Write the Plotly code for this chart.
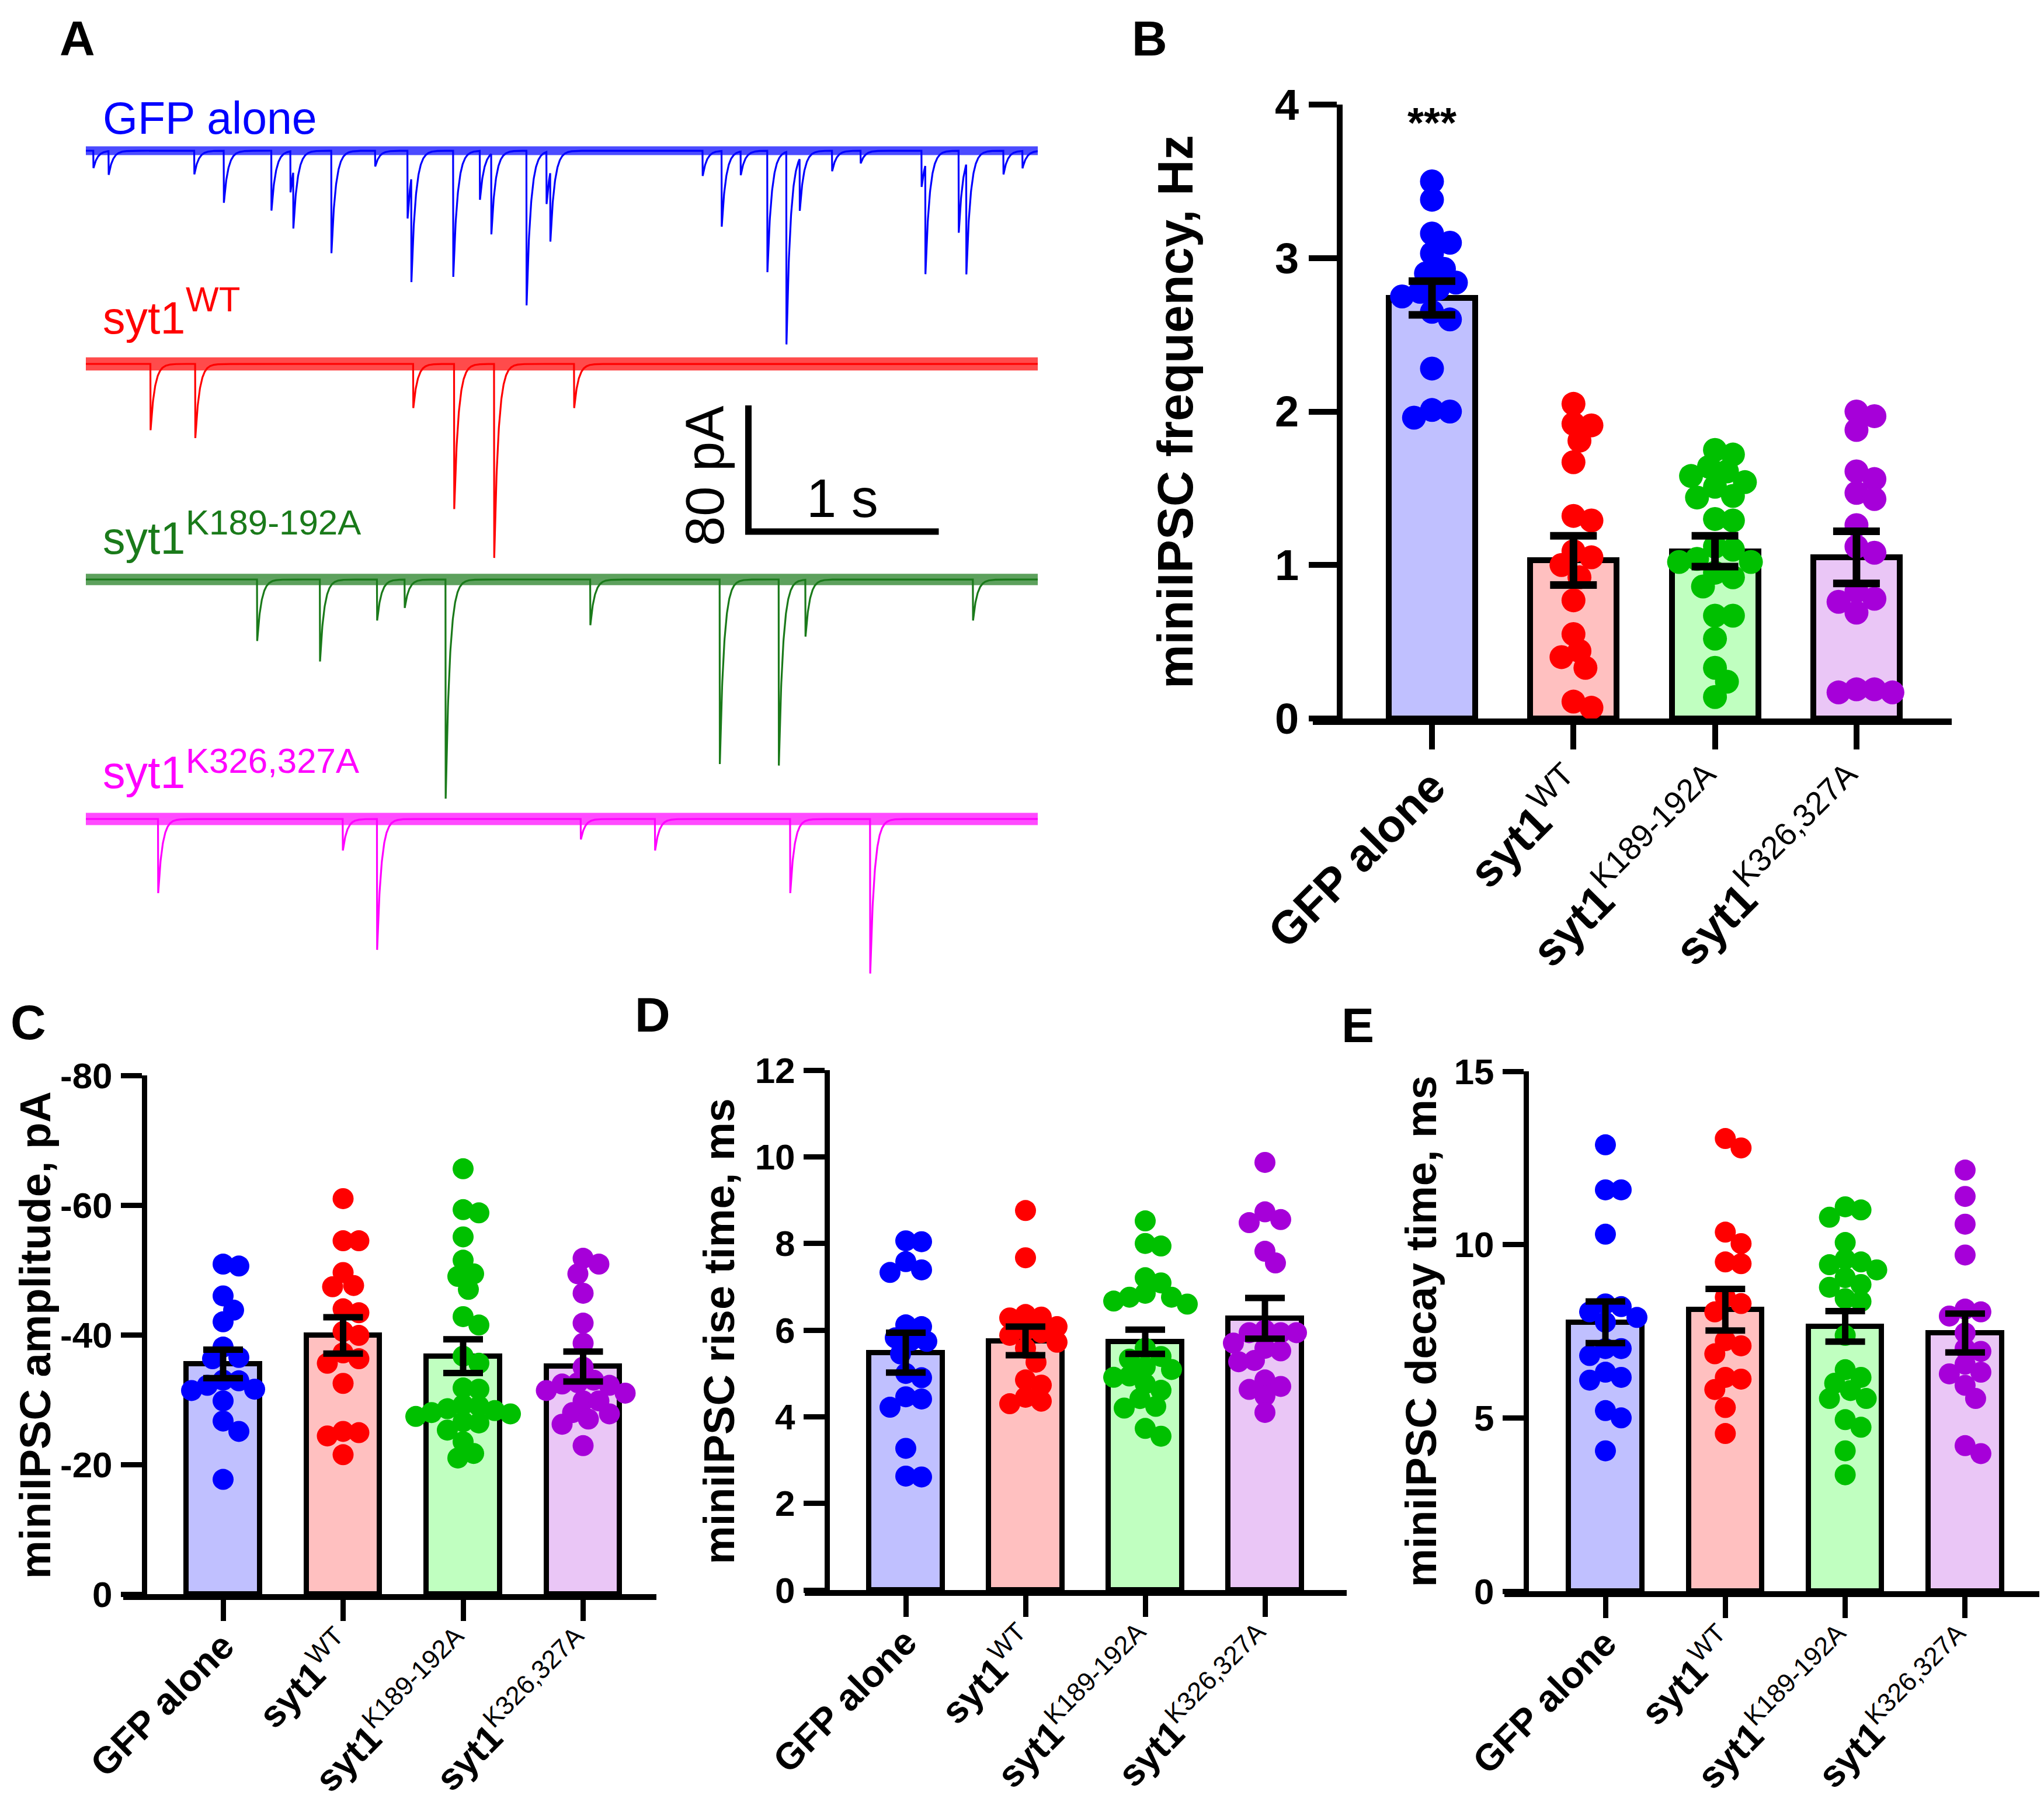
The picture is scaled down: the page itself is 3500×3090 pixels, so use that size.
import numpy as np
import plotly.graph_objects as go

W, H = 3500, 3090
FONT = "Liberation Sans"

# ---------------- DATA ----------------
groups = ["GFP alone", "syt1 WT", "syt1 K189-192A", "syt1 K326,327A"]
tick_labels = ["<b>GFP alone</b>", "<b>syt1</b><sup>WT</sup>",
               "<b>syt1</b><sup>K189-192A</sup>", "<b>syt1</b><sup>K326,327A</sup>"]

# Panel B: miniIPSC frequency (Hz)
gfp_freq = [3.50, 3.38, 3.16, 3.10, 3.03, 2.93, 2.90, 2.84, 2.80, 2.78, 2.75, 2.65, 2.60, 2.28, 2.01, 2.00, 1.96]
wt_freq = [2.05, 1.91, 1.92, 1.81, 1.67, 1.29, 1.32, 1.05, 1.09, 1.00, 0.92, 0.77, 0.55, 0.44, 0.40, 0.33, 0.11, 0.07]
k189_freq = [1.72, 1.75, 1.61, 1.64, 1.54, 1.51, 1.44, 1.45, 1.30, 1.29, 1.12, 1.02, 1.02, 1.04, 0.95, 0.92,
             0.86, 0.67, 0.67, 0.52, 0.33, 0.24, 0.14, 1.58, 1.10]
k326_freq = [2.00, 1.97, 1.88, 1.61, 1.56, 1.47, 1.43, 1.26, 1.12, 1.08, 0.83, 0.76, 0.78, 0.69, 0.17, 0.19, 0.17, 0.19]
freq_mean = [2.74, 1.03, 1.09, 1.05]
freq_sem = [0.11, 0.16, 0.10, 0.17]

# Panel C: amplitude (pA)
gfp_amp = [-50.6, -50.9, -46.0, -43.8, -42.0, -38.1, -36.3, -36.5, -33.0, -32.9, -31.4, -32.2, -31.6, -29.8, -26.7, -25.1, -17.7]
wt_amp = [-61.0, -54.5, -54.5, -49.6, -47.4, -47.6, -44.0, -43.4, -40.5, -39.9, -36.3, -35.6, -37.2, -32.5, -25.1, -24.9, -24.4, -21.5]
k189_amp = [-65.6, -59.3, -58.8, -55.1, -51.5, -49.4, -49.0, -47.0, -42.8, -41.5, -36.7, -35.6, -31.8, -31.6, -29.2,
            -29.0, -28.6, -28.0, -27.8, -27.4, -28.3, -26.6, -26.4, -25.3, -23.5, -21.7, -21.0]
k326_amp = [-51.8, -50.9, -49.4, -46.4, -41.8, -38.7, -35.0, -33.0, -32.6, -32.4, -32.2, -31.4, -31.0, -29.8, -29.8,
            -28.0, -27.0, -27.8, -26.2, -22.9]
amp_mean = [-35.5, -39.9, -36.7, -35.1]
amp_sem = [2.2, 2.8, 2.6, 2.3]

# Panel D: rise time (ms)
gfp_rise = [8.06, 8.04, 7.33, 7.58, 7.39, 6.08, 6.12, 5.82, 5.76, 5.74, 5.45, 4.90, 5.00, 4.46, 4.41, 4.22, 3.27, 2.61, 2.63]
wt_rise = [8.76, 7.67, 6.36, 6.30, 6.28, 5.88, 5.94, 6.00, 6.08, 5.72, 5.58, 5.26, 4.85, 4.73, 4.36, 4.45, 4.30]
k189_rise = [8.52, 8.00, 7.94, 7.21, 7.09, 6.76, 6.85, 6.76, 6.67, 6.60, 5.58, 5.39, 5.33, 5.09, 5.15, 4.94, 4.91,
             4.76, 4.61, 4.42, 4.24, 4.20, 3.73, 3.55]
k326_rise = [9.87, 8.73, 8.55, 8.48, 7.82, 7.55, 5.94, 5.94, 5.94, 6.00, 5.52, 5.58, 5.70, 5.27, 5.30, 4.85, 4.70,
             4.63, 4.48, 4.10]
rise_mean = [5.48, 5.75, 5.73, 6.27]
rise_sem = [0.46, 0.33, 0.28, 0.47]

# Panel E: decay time (ms)
gfp_decay = [12.88, 11.58, 11.58, 10.30, 8.29, 8.21, 8.06, 7.76, 7.90, 7.00, 6.80, 7.00, 6.32, 6.17, 6.09, 5.21, 5.00, 4.05]
wt_decay = [13.06, 12.79, 10.36, 10.03, 9.45, 9.50, 8.48, 8.06, 8.30, 7.23, 7.08, 6.85, 6.12, 6.17, 5.82, 5.30, 4.55]
k189_decay = [11.00, 11.09, 10.79, 10.06, 9.58, 9.42, 9.27, 9.50, 9.05, 8.85, 8.77, 8.44, 8.36, 7.38, 6.39, 6.17,
              5.79, 6.00, 5.56, 5.56, 4.95, 4.73, 4.05, 3.36]
k326_decay = [12.15, 11.39, 10.59, 9.70, 7.94, 8.14, 8.06, 7.00, 7.45, 6.92, 6.55, 5.94, 6.27, 6.32, 5.56, 3.97, 4.20]
decay_mean = [7.76, 8.12, 7.64, 7.45]
decay_sem = [0.60, 0.60, 0.44, 0.56]

# Panel A: example traces -- detected events (time s, amplitude pA)
gfp_event_t = [0.04, 0.12, 0.57, 0.725, 0.975, 1.075, 1.09, 1.29, 1.52, 1.69, 1.71, 1.93, 2.07, 2.13, 2.315, 2.42,
               2.44, 3.24, 3.34, 3.44, 3.58, 3.68, 3.75, 3.92, 4.07, 4.39, 4.41, 4.585, 4.625, 4.82, 4.92]
gfp_event_pA = [11, 15, 15, 33, 38, 26, 36, 65, 10, 43, 66, 80, 31, 51, 98, 33, 44, 16, 48, 15, 77, 122, 33, 13, 8,
                23, 69, 52, 70, 15, 11]
wt_event_t = [0.34, 0.575, 1.72, 1.935, 2.145, 2.565]
wt_event_pA = [42, 47, 28, 92, 123, 28]
k189_event_t = [0.90, 1.23, 1.53, 1.675, 1.89, 2.65, 3.33, 3.64, 3.78, 4.66]
k189_event_pA = [39, 52, 26, 18, 139, 29, 117, 118, 36, 26]
k326_event_t = [0.38, 1.35, 1.53, 2.60, 2.99, 3.70, 4.12]
k326_event_pA = [47, 20, 83, 13, 20, 47, 98]
trace_noise_pA = [10, 15, 13, 14]
trace_duration_s = 5.0
scale_bar_pA = 80
scale_bar_s = 1

# ---------------- STYLE ----------------
dot_colors = ["#0000FF", "#FF0000", "#00C000", "#A600D9"]
bar_colors = ["#C0C0FF", "#FFC0C0", "#C0FFC0", "#EAC6F6"]
trace_colors = ["#0000FF", "#FF0000", "#1A7A1A", "#FF00FF"]


def px2x(px):
    return px / W


def px2y(py):
    return 1 - py / H


fig = go.Figure()

# ---------------- PANEL A ----------------
A_x0, A_x1 = 139, 1769
A_ytop, A_ybot = 100, 1700
px_per_pA = 2.7
base_px = [250, 615, 984, 1394]
offsets = [-(b - base_px[0]) / px_per_pA for b in base_px]
A_yrange = [-(A_ybot - base_px[0]) / px_per_pA, (base_px[0] - A_ytop) / px_per_pA]

t = np.round(np.arange(0, trace_duration_s + 1e-9, 0.001), 3)
tau = 0.022


def waveform(ev_t, ev_a):
    y = np.zeros_like(t)
    for t0, a in zip(ev_t, ev_a):
        m = t >= t0 - 1e-9
        y[m] -= a * np.exp(-(t[m] - t0) / tau)
    return y


events = [(gfp_event_t, gfp_event_pA), (wt_event_t, wt_event_pA),
          (k189_event_t, k189_event_pA), (k326_event_t, k326_event_pA)]
for i, (et, ea) in enumerate(events):
    wf = waveform(et, ea) + offsets[i]
    # baseline noise envelope of the recording
    fig.add_trace(go.Scatter(x=[0, trace_duration_s], y=[offsets[i], offsets[i]], mode="lines",
                             line=dict(color=trace_colors[i], width=trace_noise_pA[i] * px_per_pA * 0.55),
                             opacity=0.7, xaxis="x", yaxis="y", hoverinfo="skip"))
    fig.add_trace(go.Scatter(x=t, y=wf, mode="lines",
                             line=dict(color=trace_colors[i], width=3.2), xaxis="x", yaxis="y",
                             hoverinfo="skip"))

# scale bar
sb_t0 = 3.48
sb_y0 = -(902 - base_px[0]) / px_per_pA
fig.add_trace(go.Scatter(x=[sb_t0, sb_t0, sb_t0 + scale_bar_s], y=[sb_y0 + scale_bar_pA, sb_y0, sb_y0],
                         mode="lines", line=dict(color="black", width=11), xaxis="x", yaxis="y",
                         hoverinfo="skip"))

layout_axes = dict(
    xaxis=dict(domain=[px2x(A_x0), px2x(A_x1)], range=[0, trace_duration_s], visible=False, anchor="y",
               automargin=False),
    yaxis=dict(domain=[px2y(A_ybot), px2y(A_ytop)], range=A_yrange, visible=False, anchor="x",
               automargin=False),
)

annotations = []


def ann(text, x, y, size, color="black", bold=False, angle=0, xanchor="center", yanchor="middle"):
    annotations.append(dict(text=text, x=px2x(x), y=px2y(y), xref="paper", yref="paper",
                            showarrow=False, textangle=angle, xanchor=xanchor, yanchor=yanchor,
                            font=dict(family=FONT, size=size, color=color,
                                      weight="bold" if bold else "normal")))


# trace labels
ann("GFP alone", 166, 194, 77, trace_colors[0], xanchor="left")
ann("syt1", 166, 536, 77, trace_colors[1], xanchor="left")
ann("WT", 308, 504, 60, trace_colors[1], xanchor="left")
ann("syt1", 166, 913, 77, trace_colors[2], xanchor="left")
ann("K189-192A", 308, 886, 60, trace_colors[2], xanchor="left")
ann("syt1", 166, 1314, 77, trace_colors[3], xanchor="left")
ann("K326,327A", 308, 1294, 60, trace_colors[3], xanchor="left")
ann(f"{scale_bar_pA} pA", 1199, 807, 92, angle=-90)
ann(f"{scale_bar_s} s", 1434, 845, 92)

# panel letters
for letter, (lx, ly) in {"A": (124, 58), "B": (1960, 58), "C": (40, 1742),
                          "D": (1109, 1729), "E": (2317, 1747)}.items():
    ann(letter, lx, ly, 84, bold=True)


# ---------------- BAR PANELS ----------------
def swarm(vals, d, ppx, ppy):
    order = sorted(range(len(vals)), key=lambda k: -abs(vals[k]))
    placed = []
    offs = [0.0] * len(vals)
    step = d * 0.25
    cands = [0.0]
    for n in range(1, 60):
        cands += [n * step, -n * step]
    for k in order:
        yy = abs(vals[k]) * ppy
        for c in cands:
            if all((c - px) ** 2 + (yy - py) ** 2 >= (0.74 * d) ** 2 for px, py in placed):
                break
        placed.append((c, yy))
        offs[k] = c / ppx
    return offs


panels = [
    dict(ax="2", data=[gfp_freq, wt_freq, k189_freq, k326_freq], mean=freq_mean, sem=freq_sem,
         xl=2240, yax=2286, xr=3334, cat0=2444, sp=242.3, ytop=171, ybot=1222, yr=[0, 4],
         tv=[0, 1, 2, 3, 4], tt=["0", "1", "2", "3", "4"], dot=41, lw=10, elw=13, cap=40,
         tfs=74, xfs=79, ylen=48, xlen=42, stand=-14,
         title="miniIPSC frequency, Hz", tx=2004, ty=697, tsz=85),
    dict(ax="3", data=[gfp_amp, wt_amp, k189_amp, k326_amp], mean=amp_mean, sem=amp_sem,
         xl=203, yax=239, xr=1116, cat0=374, sp=205.5, ytop=1833, ybot=2721, yr=[0, -80],
         tv=[0, -20, -40, -60, -80], tt=["0", "-20", "-40", "-60", "-80"], dot=36, lw=9, elw=11, cap=34,
         tfs=62, xfs=64, ylen=36, xlen=36, stand=-20,
         title="miniIPSC amplitude, pA", tx=52, ty=2278, tsz=74),
    dict(ax="4", data=[gfp_rise, wt_rise, k189_rise, k326_rise], mean=rise_mean, sem=rise_sem,
         xl=1370, yax=1408, xr=2298, cat0=1543, sp=205.0, ytop=1824, ybot=2714, yr=[0, 12],
         tv=[0, 2, 4, 6, 8, 10, 12], tt=["0", "2", "4", "6", "8", "10", "12"], dot=36, lw=9, elw=11,
         cap=34, tfs=62, xfs=64, ylen=36, xlen=36, stand=-20,
         title="miniIPSC rise time, ms", tx=1223, ty=2271, tsz=74),
    dict(ax="5", data=[gfp_decay, wt_decay, k189_decay, k326_decay], mean=decay_mean, sem=decay_sem,
         xl=2568, yax=2605, xr=3500, cat0=2741, sp=205.3, ytop=1826, ybot=2716, yr=[0, 15],
         tv=[0, 5, 10, 15], tt=["0", "5", "10", "15"], dot=36, lw=9, elw=11, cap=34,
         tfs=62, xfs=64, ylen=36, xlen=36, stand=-20,
         title="miniIPSC decay time, ms", tx=2425, ty=2271, tsz=74),
]

for p in panels:
    xa, ya = "x" + p["ax"], "y" + p["ax"]
    cats = list(range(len(groups)))
    fig.add_trace(go.Bar(x=cats, y=p["mean"], width=0.61, xaxis=xa, yaxis=ya,
                         marker=dict(color=bar_colors, line=dict(color="black", width=p["lw"])),
                         hoverinfo="skip"))
    ppy = (p["ybot"] - p["ytop"]) / abs(p["yr"][1] - p["yr"][0])
    for i, vals in enumerate(p["data"]):
        offs = swarm(vals, p["dot"], p["sp"], ppy)
        fig.add_trace(go.Scatter(x=[i + o for o in offs], y=vals, mode="markers", xaxis=xa, yaxis=ya,
                                 marker=dict(size=p["dot"], color=dot_colors[i], line=dict(width=0)),
                                 cliponaxis=False, hoverinfo="skip"))
    fig.add_trace(go.Scatter(x=cats, y=p["mean"], mode="markers", xaxis=xa, yaxis=ya,
                             marker=dict(size=1, color="rgba(0,0,0,0)"), cliponaxis=False,
                             error_y=dict(type="data", array=p["sem"], color="black",
                                          thickness=p["elw"], width=p["cap"]),
                             hoverinfo="skip"))
    layout_axes["xaxis" + p["ax"]] = dict(
        domain=[px2x(p["xl"]), px2x(p["xr"])],
        range=[(p["xl"] - p["cat0"]) / p["sp"], (p["xr"] - p["cat0"]) / p["sp"]],
        tickvals=cats, ticktext=tick_labels, tickangle=-45, ticks="outside", ticklen=p["xlen"],
        tickwidth=p["lw"], tickcolor="black", showline=True, linewidth=p["lw"] + 1, linecolor="black",
        showgrid=False, zeroline=False, anchor=ya, automargin=False, ticklabelstandoff=p["stand"],
        tickfont=dict(family=FONT, size=p["xfs"], color="black"))
    layout_axes["yaxis" + p["ax"]] = dict(
        domain=[px2y(p["ybot"]), px2y(p["ytop"])], range=p["yr"], tickvals=p["tv"], ticktext=p["tt"],
        ticks="outside", ticklen=p["ylen"], tickwidth=p["lw"], tickcolor="black", showline=True,
        linewidth=p["lw"], linecolor="black", showgrid=False, zeroline=False, anchor="free",
        position=px2x(p["yax"]), ticklabelstandoff=2, automargin=False,
        tickfont=dict(family=FONT, size=p["tfs"], color="black", weight="bold"))
    ann(p["title"], p["tx"], p["ty"], p["tsz"], bold=True, angle=-90)

ann("***", 2444, 202, 72, bold=True)

fig.update_layout(template="none", width=W, height=H, margin=dict(l=0, r=0, t=0, b=0, pad=0),
                  showlegend=False, paper_bgcolor="white", plot_bgcolor="rgba(0,0,0,0)", bargap=0,
                  annotations=annotations, **layout_axes)

fig.write_html("out.html", config={"displayModeBar": False})
